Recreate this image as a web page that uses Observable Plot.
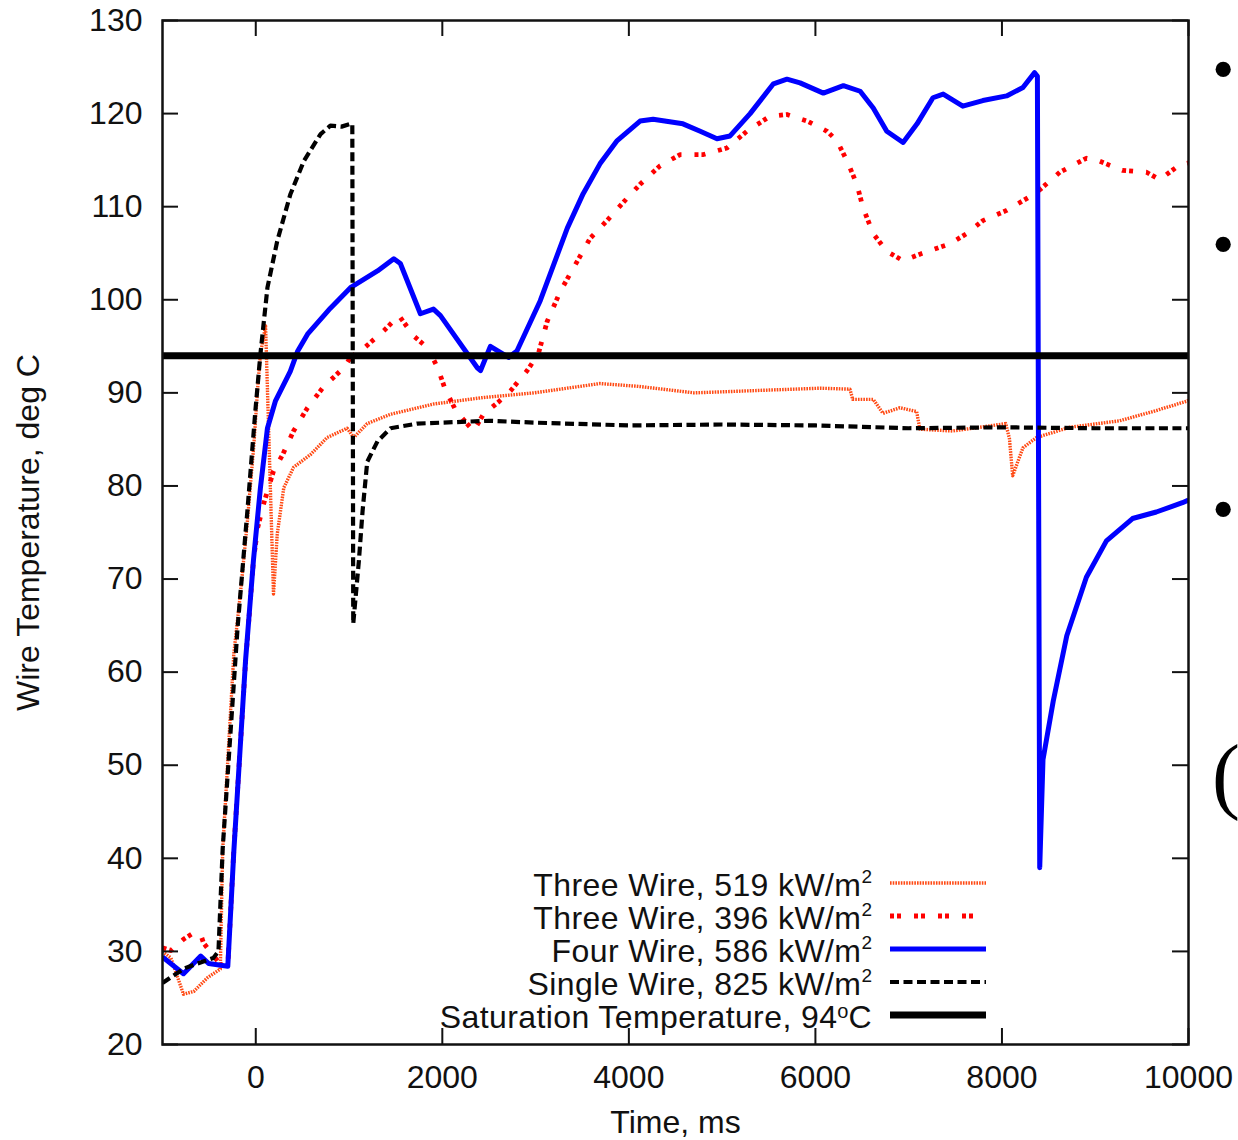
<!DOCTYPE html>
<html><head><meta charset="utf-8">
<script src="https://cdn.jsdelivr.net/npm/d3@7"></script>
<script src="https://cdn.jsdelivr.net/npm/@observablehq/plot@0.6"></script>
<style>
html,body{margin:0;padding:0;background:#fff;}
body{width:1238px;height:1140px;overflow:hidden;position:relative;font-family:"Liberation Sans",Arial,sans-serif;}
#chart{position:absolute;left:0;top:0;}
#legend{position:absolute;left:0;top:0;width:1238px;height:1140px;pointer-events:none;}
.lrow{position:absolute;right:366px;height:33px;line-height:33px;font-size:32px;letter-spacing:0.4px;color:#111;white-space:nowrap;}
.lrow sup{font-size:19px;vertical-align:0;position:relative;top:-13px;letter-spacing:0;}
.side{position:absolute;font-family:"Liberation Serif","Times New Roman",serif;color:#000;}
</style></head><body>
<div id="chart"></div>
<div id="legend"></div>
<span class="side" style="left:1212px;top:30px;font-size:64px;line-height:80px;">•</span>
<span class="side" style="left:1212px;top:205px;font-size:64px;line-height:80px;">•</span>
<span class="side" style="left:1212px;top:470px;font-size:64px;line-height:80px;">•</span>
<span class="side" style="left:1212px;top:725px;font-size:84px;line-height:100px;">(</span>
<script>
// ---------- data ----------
const xTicks = [0, 2000, 4000, 6000, 8000, 10000];
const yTicks = [20, 30, 40, 50, 60, 70, 80, 90, 100, 110, 120, 130];
const satTemp = 94;

// Three Wire, 519 kW/m2
const w3aTime = [-1000,-910,-775,-665,-515,-380,-355,-235,-165,-90,-20,20,50,105,190,230,300,405,590,765,980,1050,1195,1445,1905,2440,2980,3690,4100,4700,5500,6050,6370,6400,6620,6725,6905,7085,7120,7470,7830,8040,8080,8115,8225,8370,8725,9260,9620,9980,10000];
const w3aTemp = [30.0,29.3,25.4,25.7,27.2,28.1,40.8,62.0,68.4,76.2,84.5,90.5,94.2,97.2,68.4,74.8,79.8,82.0,83.4,85.2,86.2,85.2,86.7,87.7,88.8,89.5,90.0,91.0,90.7,90.0,90.3,90.5,90.4,89.3,89.3,87.8,88.4,88.0,86.1,85.9,86.4,86.7,85.1,81.1,84.1,85.2,86.3,87.0,88.0,89.1,89.2];

// Three Wire, 396 kW/m2
const w3bTime = [-1000,-910,-775,-680,-590,-560,-380,-300,-235,-110,-25,20,85,190,290,405,555,730,945,1015,1160,1375,1535,1695,1845,1950,2030,2150,2335,2440,2600,2730,2910,3030,3125,3265,3405,3585,3765,3980,4120,4335,4550,4800,5050,5265,5510,5695,5910,6125,6230,6340,6445,6510,6620,6765,6940,7120,7440,7620,7795,8050,8370,8620,8905,9045,9290,9550,9690,9905,10000];
const w3bTemp = [30.4,30.1,31.3,31.9,31.8,30.9,28.6,28.4,41.0,61.0,72.0,75.5,78.1,81.6,83.4,85.9,88.4,90.7,92.7,93.8,94.8,96.7,98.3,96.1,94.8,92.7,90.4,88.0,85.9,87.7,89.0,90.2,92.4,94.2,97.7,100.9,103.4,106.6,108.5,110.9,112.4,114.4,115.6,115.6,116.3,118.1,119.7,119.9,119.2,118.1,117.1,114.9,112.4,109.9,107.1,105.2,104.2,104.9,106.0,107.1,108.5,109.6,111.5,113.7,115.2,114.9,113.9,113.7,112.9,114.5,114.7];

// Four Wire, 586 kW/m2
const w4Time = [-1000,-775,-590,-505,-300,-235,-110,-25,50,125,210,370,450,555,800,1015,1305,1480,1550,1765,1905,1980,2375,2410,2515,2710,2800,3050,3340,3510,3690,3875,4120,4260,4580,4765,4945,5085,5300,5550,5695,5835,6085,6300,6480,6620,6765,6940,7090,7260,7370,7580,7795,8050,8225,8350,8380,8405,8440,8550,8695,8905,9120,9400,9655,9935,10000];
const w4Temp = [29.4,27.6,29.5,28.7,28.4,40.8,61.2,72.0,79.8,86.2,89.1,92.3,94.5,96.3,99.1,101.3,103.1,104.4,103.9,98.5,99.0,98.3,92.7,92.4,95.0,93.8,94.5,99.9,107.7,111.4,114.6,117.1,119.2,119.4,118.9,118.1,117.3,117.6,120.0,123.2,123.7,123.3,122.2,123.0,122.4,120.6,118.1,116.9,118.9,121.7,122.1,120.8,121.4,121.9,122.8,124.4,124.0,39.0,50.6,56.9,63.9,70.2,74.1,76.5,77.2,78.2,78.5];

// Single Wire, 825 kW/m2
const w1Time = [-1000,-900,-760,-455,-400,-355,-195,-90,-5,50,125,230,370,515,695,800,920,1015,1035,1045,1105,1145,1195,1305,1445,1730,2500,3000,4000,5000,6000,7000,8000,9000,10000];
const w1Temp = [26.6,27.3,28.2,29.3,30.0,41.0,64.8,77.3,88.0,94.2,101.3,106.3,111.3,114.9,117.8,118.7,118.6,118.9,118.9,65.2,71.9,77.3,82.6,84.8,86.2,86.7,87.0,86.8,86.5,86.6,86.5,86.2,86.3,86.2,86.2];

const seriesNames = ["Three Wire, 519 kW/m", "Three Wire, 396 kW/m", "Four Wire, 586 kW/m", "Single Wire, 825 kW/m"];
const satName = "Saturation Temperature, 94";

// ---------- styles ----------
const styles = [
  {stroke: "#ff4a14", strokeWidth: 3.4, strokeDasharray: "1.6,1.1"},
  {stroke: "#ff0000", strokeWidth: 4.8, strokeDasharray: "4,3,4,13"},
  {stroke: "#0000ff", strokeWidth: 5, strokeDasharray: null},
  {stroke: "#000000", strokeWidth: 4.2, strokeDasharray: "9,4.5"}
];
const satStyle = {stroke: "#000", strokeWidth: 7};

const toRows = (ts, vs) => ts.map((t, i) => ({t, v: vs[i]}));
const data = [toRows(w3aTime, w3aTemp), toRows(w3bTime, w3bTemp), toRows(w4Time, w4Temp), toRows(w1Time, w1Temp)];

const W = 1238, H = 1140, mL = 162, mR = 50, mT = 20, mB = 96;
const innerW = W - mL - mR, innerH = H - mT - mB, tickLen = 16;

const lineMarks = data.map((rows, i) => Plot.line(rows, {
  x: "t", y: "v", stroke: styles[i].stroke, strokeWidth: styles[i].strokeWidth,
  strokeDasharray: styles[i].strokeDasharray, strokeLinejoin: "round", strokeLinecap: "butt", clip: true
}));

const chart = Plot.plot({
  width: W, height: H,
  marginLeft: mL, marginRight: mR, marginTop: mT, marginBottom: mB,
  style: {fontFamily: "'Liberation Sans', Arial, sans-serif", fontSize: "32px", color: "#111", background: "white", overflow: "visible"},
  x: {domain: [-1000, 10000]},
  y: {domain: [20, 130]},
  marks: [
    ...lineMarks,
    Plot.ruleY([satTemp], {y: d => d, ...satStyle}),
    Plot.tickX(xTicks, {x: d => d, insetBottom: innerH - tickLen, stroke: "#111", strokeWidth: 2}),
    Plot.tickX(xTicks, {x: d => d, insetTop: innerH - tickLen, stroke: "#111", strokeWidth: 2}),
    Plot.tickY(yTicks, {y: d => d, insetRight: innerW - tickLen, stroke: "#111", strokeWidth: 2}),
    Plot.tickY(yTicks, {y: d => d, insetLeft: innerW - tickLen, stroke: "#111", strokeWidth: 2}),
    Plot.axisX(xTicks, {tickSize: 0, tickPadding: 21, fontSize: 32, tickFormat: d => String(d), label: "Time, ms", labelAnchor: "center", labelOffset: 88, labelArrow: "none"}),
    Plot.axisY(yTicks, {tickSize: 0, tickPadding: 20, fontSize: 32, tickFormat: d => String(d), label: "Wire Temperature, deg C", labelAnchor: "center", labelOffset: 146, labelArrow: "none"}),
    Plot.frame({stroke: "#111", strokeWidth: 2.5})
  ]
});
document.getElementById("chart").appendChild(chart);

// ---------- legend (inside the frame, lower middle) ----------
const leg = document.getElementById("legend");
const rowTops = [869, 902, 935, 968, 1001];
seriesNames.forEach((name, i) => {
  const d = document.createElement("div");
  d.className = "lrow";
  d.style.top = rowTops[i] + "px";
  d.innerHTML = name + "<sup>2</sup>";
  leg.appendChild(d);
});
{
  const d = document.createElement("div");
  d.className = "lrow";
  d.style.top = rowTops[4] + "px";
  d.innerHTML = satName + "<sup style='font-size:20px;top:-10px'>o</sup>C";
  leg.appendChild(d);
}
const ns = "http://www.w3.org/2000/svg";
const svg = document.createElementNS(ns, "svg");
svg.setAttribute("width", 1238); svg.setAttribute("height", 1140);
svg.style.position = "absolute"; svg.style.left = "0"; svg.style.top = "0";
const allStyles = [...styles, {...satStyle, strokeDasharray: null}];
allStyles.forEach((s, i) => {
  const l = document.createElementNS(ns, "line");
  const yy = rowTops[i] + 14;
  l.setAttribute("x1", 890); l.setAttribute("x2", 986);
  l.setAttribute("y1", yy); l.setAttribute("y2", yy);
  l.setAttribute("stroke", s.stroke);
  l.setAttribute("stroke-width", s.strokeWidth);
  if (s.strokeDasharray) l.setAttribute("stroke-dasharray", s.strokeDasharray);
  svg.appendChild(l);
});
leg.appendChild(svg);
</script>
</body></html>
